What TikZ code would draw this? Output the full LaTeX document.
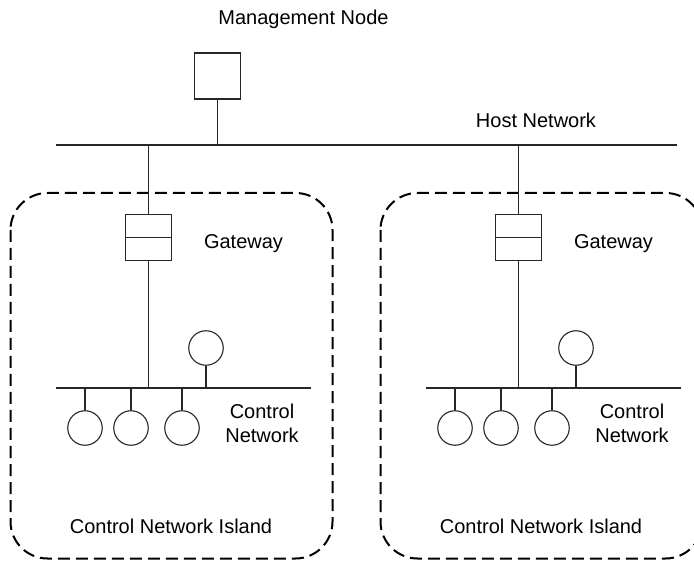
\documentclass[tikz,border=0pt]{standalone}
\usepackage{fontspec}
\setmainfont{Liberation Sans}
\begin{document}
\begin{tikzpicture}[x=1pt,y=-1pt,
  wire/.style={line width=1.1pt, draw=black!85},
  mgmtbox/.style={draw=black!85, line width=1.1pt, rectangle, minimum width=46pt, minimum height=46pt, inner sep=0pt},
  gwbox/.style={mgmtbox, path picture={\draw[line width=1.1pt, black!85]
      (path picture bounding box.west) -- (path picture bounding box.east);}},
  dev/.style={draw=black!85, line width=1.1pt, circle, minimum size=34.5pt, inner sep=0pt},
  island/.style={draw=black, line width=2pt, dash pattern=on 12pt off 6pt, rounded corners=37pt},
  lbl/.style={font=\fontsize{20}{24}\selectfont, inner sep=0pt, anchor=base}]
\useasboundingbox (0,0) rectangle (694,561);

% management node and host network
\node[lbl] (mgmtlbl) at (303.5,25) {Management Node};
\node[mgmtbox] (mgmt) at (217.5,76) {};
\coordinate (hostW) at (56,145);
\coordinate (hostE) at (677,145);
\draw[wire] (hostW) -- (hostE);
\draw[wire] (mgmt.south) -- (mgmt.south |- hostW);
\node[lbl] (hostlbl) at (536,128) {Host Network};

% the two control network islands
\foreach \k/\dx in {A/0,B/370}{
  \begin{scope}[shift={(\dx,0)}]
    \draw[island] (10.5,193) rectangle (332.5,558.5);
    \node[gwbox] (gw\k) at (148.5,237.5) {};
    \node[lbl] (gwlbl\k) at (243.5,248.5) {Gateway};
    \coordinate (cw\k) at (56,388);
    \coordinate (ce\k) at (311,388);
    \draw[wire] (cw\k) -- (ce\k);
    \draw[wire] (gw\k.north |- hostW) -- (gw\k.north);
    \draw[wire] (gw\k.south) -- (gw\k.south |- cw\k);
    \node[dev] (top\k) at (206,348) {};
    \draw[wire] (top\k.south) -- (top\k.south |- cw\k);
    \foreach \n/\cx in {1/85,2/131,3/182}{
      \node[dev] (d\k\n) at (\cx,428) {};
      \draw[wire] (d\k\n.north |- cw\k) -- (d\k\n.north);
    }
    \node[lbl, anchor=north, align=center] (cnlbl\k) at (262,404) {Control\\Network};
    \node[lbl] (islbl\k) at (171,533) {Control Network Island};
  \end{scope}
}
\end{tikzpicture}
\end{document}
